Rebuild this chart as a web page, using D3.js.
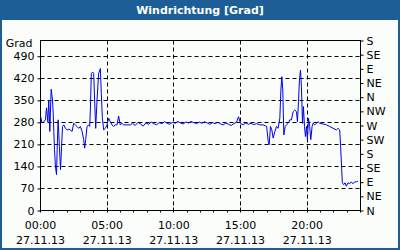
<!DOCTYPE html>
<html>
<head>
<meta charset="utf-8">
<script src="https://cdn.jsdelivr.net/npm/d3@7"></script>
<style>
  html, body { margin: 0; padding: 0; }
  body { width: 400px; height: 250px; overflow: hidden; }
  text { font-family: "DejaVu Sans", sans-serif; font-size: 11px; fill: #000; }
</style>
</head>
<body>
<div id="plot1"></div>
<script>
// Data: hours since 00:00 and wind direction in degrees
const hours = [
  0.00, 0.12, 0.25, 0.37, 0.45, 0.55, 0.62, 0.70, 0.80, 0.90, 0.95, 1.00, 1.05, 1.12, 1.20, 1.25,
  1.32, 1.42, 1.50, 1.55, 1.65, 1.75, 1.87, 2.00, 2.12, 2.24, 2.37, 2.49, 2.62, 2.74, 2.87, 2.99,
  3.12, 3.24, 3.31, 3.39, 3.49, 3.61, 3.69, 3.74, 3.81, 3.91, 3.99, 4.06, 4.14, 4.24, 4.36, 4.49,
  4.56, 4.64, 4.74, 4.86, 4.99, 5.11, 5.24, 5.36, 5.48, 5.61, 5.74, 5.86, 5.98, 6.11, 6.23, 6.48,
  6.73, 6.9, 7.1, 7.3, 7.5, 7.7, 7.9, 8.1, 8.3, 8.5, 8.7, 8.9, 9.1, 9.3, 9.5, 9.7, 9.9, 10.1,
  10.3, 10.5, 10.7, 10.9, 11.1, 11.3, 11.5, 11.7, 11.9, 12.1, 12.3, 12.5, 12.7, 12.9, 13.1, 13.3,
  13.5, 13.7, 13.9, 14.1, 14.3, 14.5, 14.7, 14.85, 15.0, 15.2, 15.4, 15.6, 15.8, 16.0, 16.2, 16.45,
  16.70, 16.96, 17.08, 17.15, 17.25, 17.35, 17.45, 17.58, 17.70, 17.82, 17.95, 18.03, 18.10, 18.17,
  18.25, 18.35, 18.45, 18.57, 18.70, 18.82, 18.95, 19.07, 19.20, 19.27, 19.35, 19.42, 19.50, 19.57,
  19.65, 19.72, 19.80, 19.87, 19.95, 20.02, 20.10, 20.19, 20.27, 20.37, 20.44, 20.57, 20.69, 20.82,
  20.94, 21.19, 21.44, 21.69, 21.94, 22.19, 22.32, 22.44, 22.51, 22.59, 22.64, 22.74, 22.84, 22.94,
  23.06, 23.19, 23.31, 23.43, 23.56, 23.69, 23.81
];
const grad = [
  300, 278, 282, 288, 326, 282, 351, 251, 385, 351, 310, 251, 193, 140, 114, 193,
  288, 203, 130, 172, 267, 272, 261, 256, 258, 256, 251, 277, 272, 267, 261, 267,
  251, 225, 198, 225, 267, 272, 267, 319, 435, 440, 435, 351, 261, 351, 435, 451,
  372, 293, 256, 261, 272, 293, 282, 272, 267, 272, 272, 300, 272, 277, 272, 272,
  272, 277, 270, 280, 275, 268, 278, 274, 281, 276, 272, 279, 276, 282, 277, 274, 280, 277,
  283, 278, 275, 281, 278, 283, 279, 276, 281, 277, 282, 278, 274, 279, 276, 280,
  275, 272, 278, 274, 270, 276, 280, 298, 277, 272, 278, 274, 277, 273, 276, 272,
  272, 267, 219, 209, 267, 256, 230, 251, 267, 261, 293, 383, 425, 383,
  240, 267, 272, 277, 288, 288, 314, 319, 314, 282, 346, 414, 446, 393,
  277, 330, 267, 235, 267, 225, 293, 267, 225, 267, 277, 272, 277, 282,
  277, 275, 272, 267, 261, 256, 261, 256, 203, 130, 88, 82, 88, 77,
  88, 85, 91, 85, 91, 91, 93
];

// Axis ticks
const leftTicks = [0, 70, 140, 210, 280, 350, 420, 490];
const dirLabels = ["N", "NE", "E", "SE", "S", "SW", "W", "NW", "N", "NE", "E", "SE", "S"];
const majorHours = [0, 5, 10, 15, 20];
const dateLabel = "27.11.13";
const title = "Windrichtung [Grad]";

const W = 400, H = 250;
const margin = { top: 40, right: 40, bottom: 40, left: 40 };
const width = W - margin.left - margin.right;   // 320
const height = 170;
const frameBlue = "#1c5e95";

const svg = d3.select("#plot1").append("svg")
  .attr("width", W)
  .attr("height", H);

// outer frame + title bar
svg.append("rect").attr("width", W).attr("height", H).attr("fill", frameBlue);
svg.append("rect")
  .attr("x", 2).attr("y", 20)
  .attr("width", W - 4).attr("height", H - 22)
  .attr("fill", "#fafdfa");
svg.append("text")
  .attr("x", W / 2).attr("y", 14)
  .attr("text-anchor", "middle")
  .style("fill", "#fff")
  .style("font-weight", "bold")
  .text(title);

const g = svg.append("g")
  .attr("transform", `translate(${margin.left + 0.5},${margin.top + 0.5})`);

// scales
const x = d3.scaleLinear().domain([0, 24]).range([0, width]);
const y = d3.scaleLinear().domain([0, 540]).range([height, 0]);

// gridlines
g.append("g")
  .selectAll("line")
  .data(leftTicks.filter(d => d > 0))
  .join("line")
  .attr("x1", 0).attr("x2", width)
  .attr("y1", d => Math.round(y(d))).attr("y2", d => Math.round(y(d)))
  .attr("stroke", "#000")
  .attr("stroke-dasharray", "4,3");

g.append("g")
  .selectAll("line")
  .data(majorHours.filter(d => d > 0))
  .join("line")
  .attr("x1", d => Math.round(x(d))).attr("x2", d => Math.round(x(d)))
  .attr("y1", 0).attr("y2", height)
  .attr("stroke", "#000")
  .attr("stroke-dasharray", "4,3");

// left axis
const yAxis = d3.axisLeft(y).tickValues(leftTicks).tickSize(3).tickPadding(3);
g.append("g").call(yAxis)
  .call(a => a.select(".domain").remove())
  .call(a => a.selectAll("text").style("font-size", "11px").style("font-family", "DejaVu Sans"));

// unit label above the left axis
g.append("text")
  .attr("x", -8).attr("y", 6.5)
  .attr("text-anchor", "end")
  .text("Grad");

// right axis (compass directions)
const yDir = d3.scaleLinear().domain([0, 540]).range([height, 0]);
const rightAxis = d3.axisRight(yDir)
  .tickValues(dirLabels.map((d, i) => i * 45))
  .tickFormat((d, i) => dirLabels[i])
  .tickSize(3).tickPadding(3);
g.append("g")
  .attr("transform", `translate(${width},0)`)
  .call(rightAxis)
  .call(a => a.select(".domain").remove())
  .call(a => a.selectAll("text").style("font-size", "11px").style("font-family", "DejaVu Sans"));

// bottom axis: hourly minor ticks, labelled majors
const hourTicks = d3.range(0, 25);
g.append("g")
  .attr("transform", `translate(0,${height})`)
  .selectAll("line")
  .data(hourTicks)
  .join("line")
  .attr("x1", d => Math.round(x(d))).attr("x2", d => Math.round(x(d)))
  .attr("y1", d => majorHours.includes(d) ? -3 : 0)
  .attr("y2", 2)
  .attr("stroke", "#000");

const xLab = g.append("g")
  .attr("transform", `translate(0,${height})`)
  .selectAll("g")
  .data(majorHours)
  .join("g")
  .attr("transform", d => `translate(${x(d)},0)`);
xLab.append("text")
  .attr("y", 18)
  .attr("text-anchor", "middle")
  .text(d => d3.format("02d")(d) + ":00");
xLab.append("text")
  .attr("y", 33)
  .attr("text-anchor", "middle")
  .text(dateLabel);

// plot frame
g.append("rect")
  .attr("width", width).attr("height", height)
  .attr("fill", "none")
  .attr("stroke", "#000");

// the series
const line = d3.line()
  .x((d, i) => x(hours[i]))
  .y(d => y(d));
g.append("path")
  .datum(grad)
  .attr("d", line)
  .attr("fill", "none")
  .attr("stroke", "#0000ee")
  .attr("stroke-width", 1);
</script>
</body>
</html>
